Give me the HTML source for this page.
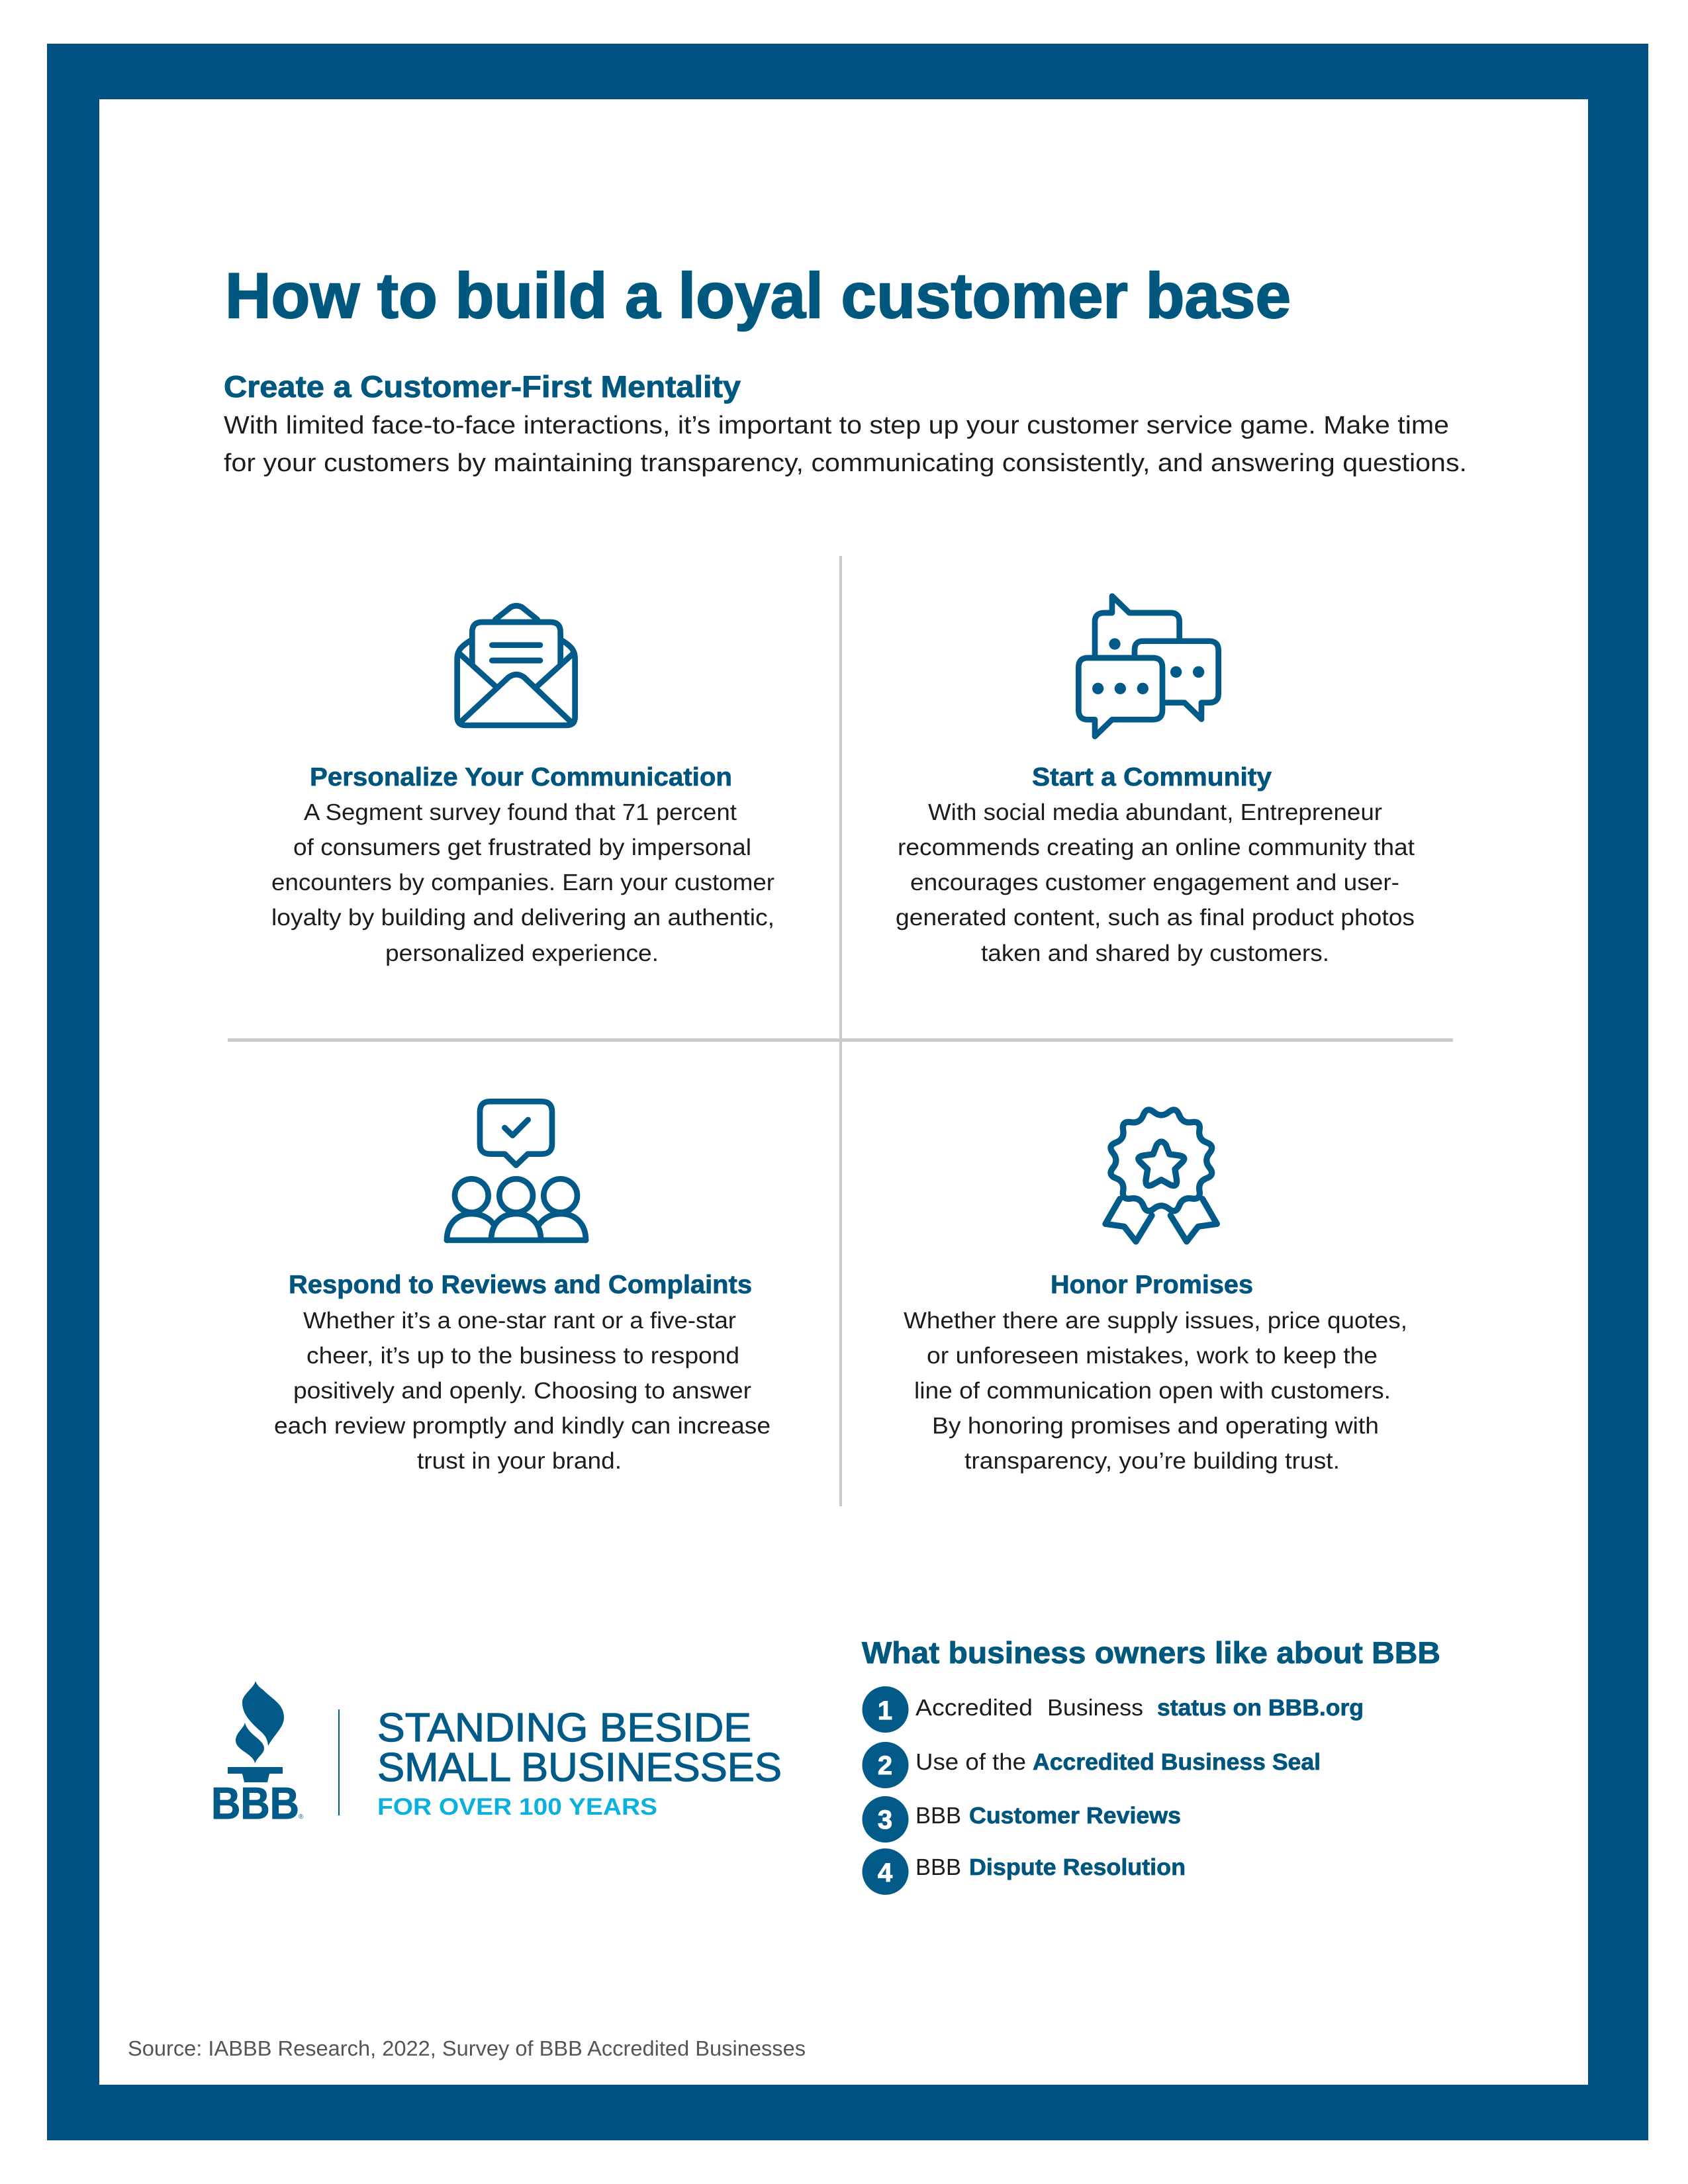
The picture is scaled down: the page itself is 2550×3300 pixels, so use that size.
<!DOCTYPE html>
<html lang="en">
<head>
<meta charset="utf-8">
<title>How to build a loyal customer base</title>
<style>
html,body{margin:0;padding:0;background:#fff;width:2550px;height:3300px;overflow:hidden}
svg{display:block}
text{font-family:"Liberation Sans",sans-serif;text-rendering:geometricPrecision}
.b{font-size:35px;fill:#1c1c1c}
.h{font-size:39px;font-weight:700;fill:#00557f;stroke:#00557f;stroke-width:.7}
.l{font-size:35px;fill:#1c1c1c}
.s{font-size:35px;font-weight:700;fill:#00557f;stroke:#00557f;stroke-width:.7}
.n{font-size:40px;font-weight:700;fill:#fff;text-anchor:middle;stroke:#fff;stroke-width:1}
.i{fill:none;stroke:#015a87;stroke-linecap:round;stroke-linejoin:round}
</style>
</head>
<body>
<svg xmlns="http://www.w3.org/2000/svg" width="2550" height="3300" viewBox="0 0 2550 3300">
<rect width="2550" height="3300" fill="#fff"/>
<rect x="71" y="66" width="2419" height="3168" fill="#015282"/>
<rect x="150" y="150" width="2249" height="3000" fill="#fff"/>

<text x="340" y="480" font-size="97" font-weight="700" fill="#00587f" stroke="#00587f" stroke-width="2" textLength="1610" lengthAdjust="spacingAndGlyphs">How to build a loyal customer base</text>
<text x="338" y="600" font-size="46" font-weight="700" fill="#00587f" stroke="#00587f" stroke-width=".9" textLength="781" lengthAdjust="spacingAndGlyphs">Create a Customer-First Mentality</text>
<text x="338" y="655" font-size="38" fill="#1c1c1c" textLength="1851" lengthAdjust="spacingAndGlyphs">With limited face-to-face interactions, it’s important to step up your customer service game. Make time</text>
<text x="338" y="712" font-size="38" fill="#1c1c1c" textLength="1878" lengthAdjust="spacingAndGlyphs">for your customers by maintaining transparency, communicating consistently, and answering questions.</text>

<rect x="1268" y="838" width="4" height="1427" fill="#c9c9c9" transform="translate(0 2) scale(1 1)"/>
<rect x="1268" y="2260" width="4" height="16" fill="#c9c9c9"/>
<rect x="344" y="1569" width="1851" height="5" fill="#c9c9c9"/>

<!-- Envelope -->
<g class="i" transform="translate(600 860) scale(.3333)" stroke-width="26">
<path d="M330 325 C290 350 272 370 272 405 V670 Q272 708 310 708 H768 Q806 708 806 670 V405 C806 370 790 350 750 325"/>
<path d="M445 228 L515 172 Q540 160 565 172 L635 228"/>
<path d="M340 430 V285 Q340 240 385 240 H695 Q740 240 740 285 V430"/>
<path d="M430 344 H648 M430 414 H648"/>
<path d="M285 385 L450 535 M795 385 L630 535"/>
<path d="M285 695 L505 490 Q540 465 575 490 L790 695"/>
</g>
<!-- Chat -->
<g transform="translate(1580 860) scale(.3333)">
<g class="i" stroke-width="26">
<path d="M222 390 V238 Q222 198 265 198 H300 V122 L378 198 H565 Q605 198 605 238 V325"/>
<path d="M402 395 V366 Q402 326 440 326 H740 Q782 326 782 368 V565 Q782 605 740 605 H705 V680 L628 605 H530"/>
<path d="M190 402 H485 Q528 402 528 445 V640 Q528 682 485 682 H300 L222 758 V682 H190 Q148 682 148 640 V445 Q148 402 190 402 Z"/>
</g>
<g fill="#015a87">
<circle cx="312" cy="339" r="26"/><circle cx="590" cy="466" r="26"/><circle cx="692" cy="466" r="26"/>
<circle cx="236" cy="541" r="26"/><circle cx="337" cy="541" r="26"/><circle cx="439" cy="541" r="26"/>
</g>
</g>
<!-- People -->
<g class="i" transform="translate(640 1630) scale(.3333)" stroke-width="26">
<path d="M300 103 H535 Q582 103 582 150 V295 Q582 341 535 341 H472 L419 392 L368 341 H302 Q255 341 255 295 V150 Q255 103 300 103 Z"/>
<path d="M367 222 L403 257 L473 186"/>
<circle cx="217" cy="530" r="76"/><circle cx="419" cy="530" r="76"/><circle cx="620" cy="530" r="76"/>
<path d="M105 732 C105 660 150 612 217 612 C260 612 300 630 320 665"/>
<path d="M306 732 C306 660 350 612 419 612 C490 612 530 660 532 732"/>
<path d="M520 665 C545 630 580 612 622 612 C690 612 735 660 735 732"/>
<path d="M105 732 H735"/>
</g>
<!-- Badge -->
<g class="i" transform="translate(1630 1640) scale(.3333)" stroke-width="28">
<path d="M406 121.5 Q439 95 454 134 Q469 174 511 167 Q553 160 546 202 Q539 244 578.5 259 Q618 274 591.5 307 Q565 340 591.5 373 Q618 406 578.5 421 Q539 436 546 478 Q553 520 511 513 Q469 506 454 545.5 Q439 585 406 558.5 Q373 532 340 558.5 Q307 585 292 545.5 Q277 506 235 513 Q193 520 200 478 Q207 436 167.5 421 Q128 406 154.5 373 Q181 340 154.5 307 Q128 274 167.5 259 Q207 244 200 202 Q193 160 235 167 Q277 174 292 134 Q307 95 340 121.5 Q373 148 406 121.5 Z"/>
<path d="M352 270 Q373 240 394 270 L410 312 L455 318 Q490 325 468 348 L435 380 L443 430 Q445 465 412 450 L373 428 L334 450 Q301 465 303 430 L311 380 L278 348 Q256 325 291 318 L336 312 Z"/>
<path d="M185 515 L120 628 L205 640 L258 708 L330 590"/>
<path d="M560 515 L625 628 L540 640 L488 708 L415 590"/>
</g>

<text class="h" x="468" y="1187" textLength="638" lengthAdjust="spacingAndGlyphs">Personalize Your Communication</text>
<text class="b" x="459" y="1239" textLength="654" lengthAdjust="spacingAndGlyphs">A Segment survey found that 71 percent</text>
<text class="b" x="443" y="1292" textLength="692" lengthAdjust="spacingAndGlyphs">of consumers get frustrated by impersonal</text>
<text class="b" x="410" y="1345" textLength="760" lengthAdjust="spacingAndGlyphs">encounters by companies. Earn your customer</text>
<text class="b" x="410" y="1398" textLength="760" lengthAdjust="spacingAndGlyphs">loyalty by building and delivering an authentic,</text>
<text class="b" x="582" y="1452" textLength="413" lengthAdjust="spacingAndGlyphs">personalized experience.</text>

<text class="h" x="1559" y="1187" textLength="362" lengthAdjust="spacingAndGlyphs">Start a Community</text>
<text class="b" x="1402" y="1239" textLength="686" lengthAdjust="spacingAndGlyphs">With social media abundant, Entrepreneur</text>
<text class="b" x="1356" y="1292" textLength="781" lengthAdjust="spacingAndGlyphs">recommends creating an online community that</text>
<text class="b" x="1375" y="1345" textLength="739" lengthAdjust="spacingAndGlyphs">encourages customer engagement and user-</text>
<text class="b" x="1353" y="1398" textLength="784" lengthAdjust="spacingAndGlyphs">generated content, such as final product photos</text>
<text class="b" x="1482" y="1452" textLength="526" lengthAdjust="spacingAndGlyphs">taken and shared by customers.</text>

<text class="h" x="436" y="1954" textLength="700" lengthAdjust="spacingAndGlyphs">Respond to Reviews and Complaints</text>
<text class="b" x="458" y="2007" textLength="654" lengthAdjust="spacingAndGlyphs">Whether it’s a one-star rant or a five-star</text>
<text class="b" x="463" y="2060" textLength="654" lengthAdjust="spacingAndGlyphs">cheer, it’s up to the business to respond</text>
<text class="b" x="443" y="2113" textLength="692" lengthAdjust="spacingAndGlyphs">positively and openly. Choosing to answer</text>
<text class="b" x="414" y="2166" textLength="750" lengthAdjust="spacingAndGlyphs">each review promptly and kindly can increase</text>
<text class="b" x="630" y="2219" textLength="309" lengthAdjust="spacingAndGlyphs">trust in your brand.</text>

<text class="h" x="1587" y="1954" textLength="306" lengthAdjust="spacingAndGlyphs">Honor Promises</text>
<text class="b" x="1365" y="2007" textLength="761" lengthAdjust="spacingAndGlyphs">Whether there are supply issues, price quotes,</text>
<text class="b" x="1400" y="2060" textLength="681" lengthAdjust="spacingAndGlyphs">or unforeseen mistakes, work to keep the</text>
<text class="b" x="1381" y="2113" textLength="720" lengthAdjust="spacingAndGlyphs">line of communication open with customers.</text>
<text class="b" x="1408" y="2166" textLength="675" lengthAdjust="spacingAndGlyphs">By honoring promises and operating with</text>
<text class="b" x="1457" y="2219" textLength="567" lengthAdjust="spacingAndGlyphs">transparency, you’re building trust.</text>

<!-- Logo -->
<g fill="#015a87">
<path d="M386 2540 C384 2550 366 2560 366 2572 C366 2585 372 2595 385 2608 C395 2618 404 2622 405 2638 C415 2620 429 2610 429 2595 C429 2575 412 2568 397 2553 C390 2548 388 2545 386 2540 Z"/>
<path d="M370 2603 C368 2612 356 2618 356 2630 C356 2645 384 2650 385 2665 C388 2655 399 2650 399 2642 C399 2628 375 2622 370 2603 Z"/>
<path d="M344 2670 H427 V2680 H407 L404 2693 H369 L366 2680 H344 Z"/>
<rect x="511" y="2583" width="2" height="160"/>
</g>
<text x="319" y="2748" font-size="68" font-weight="700" fill="#015a87" stroke="#015a87" stroke-width="1" textLength="133" lengthAdjust="spacingAndGlyphs">BBB</text>
<text x="451" y="2748" font-size="10" fill="#015a87">®</text>
<text x="570" y="2631" font-size="61" fill="#015a87" stroke="#015a87" stroke-width="1.2" textLength="565" lengthAdjust="spacingAndGlyphs">STANDING BESIDE</text>
<text x="570" y="2691" font-size="61" fill="#015a87" stroke="#015a87" stroke-width="1.2" textLength="611" lengthAdjust="spacingAndGlyphs">SMALL BUSINESSES</text>
<text x="570" y="2742" font-size="36" font-weight="700" fill="#0cb0dc" textLength="423" lengthAdjust="spacingAndGlyphs">FOR OVER 100 YEARS</text>

<!-- List -->
<text x="1302" y="2513" font-size="46" font-weight="700" fill="#00587f" stroke="#00587f" stroke-width=".9" textLength="874" lengthAdjust="spacingAndGlyphs">What business owners like about BBB</text>
<g fill="#015a87">
<circle cx="1329" cy="0" r="0"/>
<circle cx="1337.5" cy="2583" r="35"/><circle cx="1337.5" cy="2667" r="35"/>
<circle cx="1337.5" cy="2749" r="35"/><circle cx="1337.5" cy="2828" r="35"/>
</g>
<text class="n" x="1330" y="0"></text>
<text class="n" x="1329" y="0"></text>
<text class="n" x="1337" y="2598">1</text>
<text class="n" x="1337" y="2681">2</text>
<text class="n" x="1337" y="2763">3</text>
<text class="n" x="1337" y="2843">4</text>
<text class="l" x="1383" y="2592" textLength="177" lengthAdjust="spacingAndGlyphs">Accredited</text>
<text class="l" x="1582" y="2592" textLength="145" lengthAdjust="spacingAndGlyphs">Business</text>
<text class="s" x="1748" y="2592" textLength="312" lengthAdjust="spacingAndGlyphs">status on BBB.org</text>
<text class="l" x="1383" y="2674" textLength="167" lengthAdjust="spacingAndGlyphs">Use of the</text>
<text class="s" x="1560" y="2674" textLength="435" lengthAdjust="spacingAndGlyphs">Accredited Business Seal</text>
<text class="l" x="1383" y="2755" textLength="69" lengthAdjust="spacingAndGlyphs">BBB</text>
<text class="s" x="1464" y="2755" textLength="320" lengthAdjust="spacingAndGlyphs">Customer Reviews</text>
<text class="l" x="1383" y="2833" textLength="69" lengthAdjust="spacingAndGlyphs">BBB</text>
<text class="s" x="1464" y="2833" textLength="327" lengthAdjust="spacingAndGlyphs">Dispute Resolution</text>

<text x="193" y="3106" font-size="32" fill="#555" textLength="1024" lengthAdjust="spacingAndGlyphs">Source: IABBB Research, 2022, Survey of BBB Accredited Businesses</text>
</svg>
</body>
</html>
